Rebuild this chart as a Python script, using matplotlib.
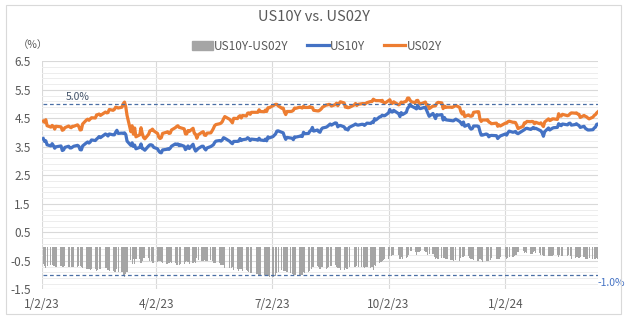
import numpy as np
import pandas as pd
import matplotlib
matplotlib.use("Agg")
import matplotlib.pyplot as plt
from matplotlib.lines import Line2D
from matplotlib.patches import Patch, Rectangle

# ── データ（営業日ベース, 2023-01-03 〜 2024-03-15）─────────────────────────
holidays = ["2023-01-16", "2023-02-20", "2023-05-29", "2023-06-19", "2023-07-04",
            "2023-09-04", "2023-10-09", "2023-11-23", "2023-12-25",
            "2024-01-01", "2024-01-15", "2024-02-19"]

us10y = [
    3.79, 3.69, 3.71, 3.57, 3.53, 3.61, 3.54, 3.45, 3.50, 3.53, 3.37, 3.39, 3.48, 3.52, 3.46, 3.46, 3.49, 3.52, 3.55, 3.52,  # 2023-01
    3.40, 3.39, 3.53, 3.64, 3.67, 3.63, 3.67, 3.74, 3.72, 3.77, 3.81, 3.86, 3.82, 3.95, 3.92, 3.88, 3.95, 3.92, 3.92,  # 02
    4.01, 4.08, 3.97, 3.98, 3.97, 3.99, 3.93, 3.70, 3.55, 3.64, 3.51, 3.56, 3.43, 3.48, 3.60, 3.44, 3.42, 3.38, 3.53, 3.57, 3.57, 3.55, 3.48,  # 03
    3.43, 3.35, 3.30, 3.29, 3.39, 3.41, 3.43, 3.41, 3.45, 3.52, 3.60, 3.58, 3.60, 3.54, 3.57, 3.52, 3.40, 3.45, 3.53, 3.44,  # 04
    3.59, 3.44, 3.35, 3.39, 3.44, 3.52, 3.52, 3.44, 3.39, 3.46, 3.51, 3.54, 3.57, 3.65, 3.70, 3.72, 3.70, 3.74, 3.82, 3.80, 3.69, 3.64,  # 05
    3.61, 3.69, 3.69, 3.70, 3.79, 3.72, 3.75, 3.77, 3.82, 3.79, 3.72, 3.77, 3.75, 3.73, 3.80, 3.74, 3.72, 3.77, 3.71, 3.85, 3.81,  # 06
    3.86, 3.95, 4.05, 4.06, 4.01, 3.99, 3.86, 3.76, 3.83, 3.81, 3.80, 3.75, 3.85, 3.84, 3.87, 3.89, 3.86, 4.01, 3.96, 3.97,  # 07
    4.05, 4.08, 4.18, 4.05, 4.09, 4.03, 4.01, 4.11, 4.16, 4.19, 4.22, 4.26, 4.30, 4.26, 4.34, 4.33, 4.20, 4.24, 4.25, 4.20, 4.12, 4.12, 4.09,  # 08
    4.18, 4.27, 4.30, 4.27, 4.26, 4.29, 4.29, 4.25, 4.29, 4.33, 4.32, 4.37, 4.35, 4.49, 4.44, 4.55, 4.56, 4.61, 4.59, 4.59,  # 09
    4.69, 4.81, 4.73, 4.72, 4.78, 4.66, 4.56, 4.70, 4.63, 4.71, 4.85, 4.90, 4.99, 4.93, 4.86, 4.83, 4.95, 4.86, 4.84, 4.88, 4.88,  # 10
    4.78, 4.67, 4.57, 4.67, 4.58, 4.49, 4.63, 4.61, 4.63, 4.44, 4.53, 4.45, 4.44, 4.42, 4.41, 4.41, 4.47, 4.39, 4.34, 4.27, 4.37,  # 11
    4.22, 4.28, 4.17, 4.12, 4.14, 4.23, 4.23, 4.21, 4.04, 3.91, 3.91, 3.95, 3.93, 3.85, 3.89, 3.90, 3.89, 3.79, 3.84, 3.88,  # 12
    3.95, 3.91, 3.99, 4.05, 4.01, 4.02, 4.04, 3.98, 3.96, 4.07, 4.10, 4.14, 4.15, 4.11, 4.14, 4.18, 4.14, 4.15, 4.08, 4.06, 3.99,  # 2024-01
    3.87, 4.03, 4.16, 4.09, 4.12, 4.15, 4.17, 4.18, 4.31, 4.27, 4.24, 4.30, 4.27, 4.32, 4.33, 4.26, 4.28, 4.31, 4.27, 4.25,  # 02
    4.18, 4.22, 4.15, 4.12, 4.09, 4.09, 4.10, 4.16, 4.19, 4.29, 4.30,  # 03
]

us02y = [
    4.40, 4.36, 4.45, 4.24, 4.19, 4.25, 4.21, 4.12, 4.22, 4.20, 4.08, 4.10, 4.17, 4.23, 4.19, 4.17, 4.22, 4.22, 4.27, 4.21,  # 2023-01
    4.09, 4.10, 4.30, 4.44, 4.47, 4.43, 4.48, 4.52, 4.51, 4.62, 4.63, 4.65, 4.60, 4.72, 4.69, 4.70, 4.81, 4.78, 4.81,  # 02
    4.89, 4.88, 4.86, 4.89, 5.01, 5.07, 4.90, 4.60, 4.03, 4.24, 3.94, 4.16, 3.85, 3.92, 4.17, 3.96, 3.83, 3.78, 3.94, 4.06, 4.08, 4.12, 4.06,  # 03
    3.97, 3.84, 3.79, 3.82, 3.97, 4.01, 4.03, 3.97, 3.98, 4.09, 4.17, 4.21, 4.24, 4.18, 4.17, 4.13, 3.95, 3.95, 4.07, 4.04,  # 04
    4.15, 3.97, 3.94, 3.80, 3.92, 4.01, 4.03, 3.91, 3.90, 3.98, 3.99, 4.06, 4.14, 4.24, 4.28, 4.31, 4.33, 4.38, 4.48, 4.56, 4.46, 4.40,  # 05
    4.34, 4.50, 4.49, 4.56, 4.59, 4.51, 4.60, 4.58, 4.68, 4.69, 4.64, 4.71, 4.71, 4.71, 4.80, 4.74, 4.73, 4.79, 4.74, 4.87, 4.87,  # 06
    4.94, 4.99, 4.99, 4.94, 4.85, 4.86, 4.72, 4.63, 4.74, 4.74, 4.75, 4.78, 4.86, 4.85, 4.89, 4.88, 4.86, 4.92, 4.88, 4.88,  # 07
    4.91, 4.88, 4.88, 4.78, 4.76, 4.76, 4.79, 4.83, 4.89, 4.97, 4.97, 4.99, 4.98, 4.93, 4.98, 5.03, 4.94, 5.01, 5.08, 5.04, 4.89, 4.91, 4.87,  # 08
    4.88, 4.97, 5.02, 4.95, 4.99, 5.01, 5.02, 4.99, 5.02, 5.05, 5.09, 5.09, 5.17, 5.14, 5.12, 5.12, 5.10, 5.13, 5.06, 5.03,  # 09
    5.12, 5.15, 5.05, 5.02, 5.08, 4.97, 5.00, 5.07, 5.05, 5.10, 5.21, 5.21, 5.13, 5.08, 5.05, 5.12, 5.13, 5.04, 5.00, 5.05, 5.07,  # 10
    4.96, 4.97, 4.84, 4.93, 4.93, 4.94, 5.03, 5.06, 5.04, 4.84, 4.93, 4.88, 4.89, 4.89, 4.88, 4.90, 4.95, 4.88, 4.73, 4.65, 4.73,  # 11
    4.56, 4.62, 4.58, 4.57, 4.59, 4.71, 4.73, 4.73, 4.47, 4.39, 4.44, 4.44, 4.45, 4.37, 4.35, 4.31, 4.33, 4.22, 4.27, 4.23,  # 12
    4.33, 4.33, 4.38, 4.40, 4.36, 4.36, 4.35, 4.26, 4.14, 4.22, 4.34, 4.34, 4.39, 4.38, 4.39, 4.38, 4.31, 4.36, 4.31, 4.34, 4.27,  # 2024-01
    4.21, 4.37, 4.48, 4.42, 4.44, 4.48, 4.48, 4.46, 4.66, 4.58, 4.58, 4.64, 4.59, 4.61, 4.66, 4.69, 4.68, 4.69, 4.65, 4.64,  # 02
    4.53, 4.60, 4.57, 4.55, 4.51, 4.48, 4.54, 4.60, 4.63, 4.69, 4.73,  # 03
]

tick_dates = ["2023-01-02", "2023-04-02", "2023-07-02", "2023-10-02", "2024-01-02"]
tick_labels = ["1/2/23", "4/2/23", "7/2/23", "10/2/23", "1/2/24"]
ref_high, ref_low = 5.0, -1.0
# ─────────────────────────────────────────────────────────────────────────────

dates = pd.bdate_range("2023-01-03", "2024-03-15", freq="C", holidays=holidays)
assert len(dates) == len(us10y) == len(us02y), (len(dates), len(us10y), len(us02y))
y10 = np.array(us10y)
y02 = np.array(us02y)
spread = y10 - y02

TXT = "#595959"
BLUE = "#4472C4"
ORANGE = "#ED7D31"
GRAY = "#A5A5A5"
plt.rcParams["font.family"] = ["Noto Sans CJK JP", "DejaVu Sans"]

fig = plt.figure(figsize=(6.27, 3.19), dpi=100)
ax = fig.add_axes([42 / 627, 1 - 289.3 / 319, (598 - 42) / 627, (289.3 - 61.3) / 319])

# グリッド
ax.set_ylim(-1.5, 6.5)
ax.set_yticks(np.arange(-1.5, 6.51, 1.0))
ax.set_yticklabels([f"{v:.1f}" for v in np.arange(-1.5, 6.51, 1.0)])
ax.set_yticks(np.arange(-1.5, 6.51, 0.2), minor=True)
ax.grid(True, which="major", axis="y", color="#D9D9D9", lw=0.8)
ax.grid(True, which="minor", axis="y", color="#EDEDED", lw=0.7)
ax.grid(True, which="major", axis="x", color="#D9D9D9", lw=0.8)
ax.set_axisbelow(True)

ax.bar(dates, spread, width=0.9, color=GRAY, linewidth=0, zorder=2)
ax.plot(dates, y10, color=BLUE, lw=2.3, zorder=4, solid_joinstyle="round")
ax.plot(dates, y02, color=ORANGE, lw=2.3, zorder=3, solid_joinstyle="round")

ax.plot([dates[0], dates[-1]], [ref_high, ref_high], color="#4A6FA5", lw=0.9,
        dashes=(3, 2.2), zorder=5)
ax.plot([dates[0], dates[-1]], [ref_low, ref_low], color="#4A6FA5", lw=0.9,
        dashes=(3, 2.2), zorder=5)
ax.text(pd.Timestamp("2023-01-21"), 5.06, "5.0%", color="#44546A", fontsize=7.5,
        va="bottom", ha="left")
ax.text(1.0, -1.28, "-1.0%", color="#4472C4", fontsize=7.5, va="center", ha="left",
        transform=ax.get_yaxis_transform(), clip_on=False)

ax.set_xlim(pd.Timestamp("2023-01-02"), dates[-1])
ax.set_xticks(pd.to_datetime(tick_dates))
ax.set_xticklabels(tick_labels)
ax.tick_params(axis="both", which="both", length=0, colors=TXT, labelsize=8.5)
ax.tick_params(axis="x", pad=6)
ax.tick_params(axis="y", pad=8)
for s in ax.spines.values():
    s.set_visible(False)

fig.text(0.5, 1 - 17 / 319, "US10Y vs. US02Y", ha="center", va="center",
         fontsize=10.5, color=TXT)
fig.text(33 / 627, 1 - 45 / 319, "（%）", ha="center", va="center", fontsize=7.5,
         color=TXT)

handles = [Patch(color=GRAY),
           Line2D([], [], color=BLUE, lw=2.3),
           Line2D([], [], color=ORANGE, lw=2.3)]
fig.legend(handles, ["US10Y-US02Y", "US10Y", "US02Y"], loc="center",
           bbox_to_anchor=(0.505, 1 - 46 / 319), ncol=3, frameon=False,
           fontsize=8.5, labelcolor=TXT, handlelength=1.8, handletextpad=0.1,
           columnspacing=1.6, handleheight=0.9)

fig.patches.append(Rectangle((6 / 627, 1 - 314 / 319), 615 / 627, 309 / 319,
                             transform=fig.transFigure, fill=False,
                             edgecolor="#D9D9D9", lw=0.8))

fig.savefig("out.png", dpi=100, facecolor="white")
